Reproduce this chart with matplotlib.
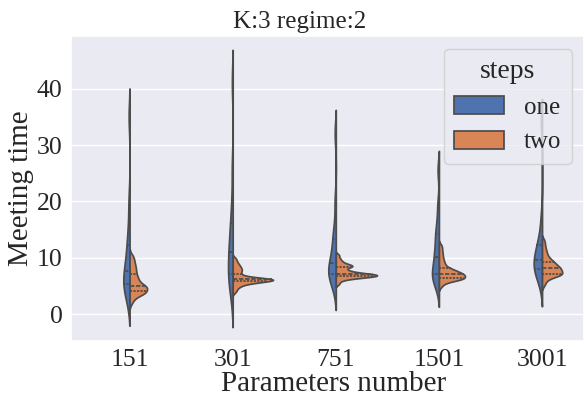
import matplotlib
matplotlib.use("Agg")
import matplotlib.pyplot as plt
import seaborn as sns
import pandas as pd

categories = ["151", "301", "751", "1501", "3001"]
steps = ["one", "two"]
y_ticks = [0, 10, 20, 30, 40]

one_151 = [3.0, 3.8, 4.6, 5.1, 5.9, 6.8, 7.3,
           7.9, 9.5, 11.5, 12.6, 15.5, 20.0, 35.0]
two_151 = [2.0, 2.6, 3.0, 3.3, 3.5, 3.6, 3.7, 3.8, 3.9, 4.0,
           4.1, 4.2, 4.35, 4.5, 4.6, 4.7, 4.8, 4.9, 5.0, 5.0,
           5.1, 5.3, 5.5, 5.7, 5.9, 6.1, 6.3, 6.5, 6.8, 7.0,
           7.3, 7.6, 7.9, 8.2, 8.5, 8.8, 9.2, 9.6, 10.0, 10.5]
one_301 = [3.6, 5.2, 6.4, 7.0, 7.8, 9.4, 10.7,
           11.5, 13.0, 15.0, 16.5, 20.0, 26.0, 41.0]
two_301 = [4.0, 4.5, 4.85, 5.1, 5.3, 5.45, 5.55, 5.65, 5.72, 5.78,
           5.85, 5.9, 5.95, 6.0, 6.05, 6.08, 6.12, 6.15, 6.18, 6.2,
           6.22, 6.25, 6.28, 6.32, 6.38, 6.45, 6.55, 6.7, 6.9, 7.1,
           7.35, 7.6, 7.8, 8.0, 8.2, 8.45, 8.7, 9.0, 9.4, 9.9]
one_751 = [5.0, 6.2, 6.8, 7.1, 7.5, 8.2, 8.8,
           9.4, 10.6, 12.6, 13.5, 15.5, 20.0, 32.0]
two_751 = [5.4, 5.9, 6.2, 6.35, 6.45, 6.55, 6.6, 6.65, 6.7, 6.7,
           6.75, 6.8, 6.85, 6.9, 6.95, 7.0, 7.0, 7.05, 7.1, 7.1,
           7.15, 7.2, 7.3, 7.4, 7.5, 7.6, 7.75, 7.9, 8.1, 8.4,
           8.45, 8.5, 8.6, 8.7, 8.85, 9.0, 9.25, 9.55, 9.95, 10.5]
one_1501 = [4.8, 6.1, 6.7, 7.0, 7.4, 8.6, 9.8,
            10.6, 11.8, 13.6, 14.4, 16.5, 19.5, 25.5]
two_1501 = [5.0, 5.5, 5.8, 6.0, 6.1, 6.2, 6.25, 6.3, 6.3, 6.35,
            6.4, 6.5, 6.6, 6.7, 6.8, 6.9, 6.95, 7.0, 7.05, 7.1,
            7.15, 7.25, 7.35, 7.45, 7.55, 7.65, 7.75, 7.85, 8.0, 8.1,
            8.3, 8.6, 8.9, 9.2, 9.6, 10.0, 10.5, 11.0, 11.6, 12.2]
one_3001 = [5.6, 7.0, 7.6, 8.0, 8.4, 9.0, 9.45,
            9.95, 10.8, 11.9, 12.3, 13.8, 17.0, 34.0]
two_3001 = [5.2, 5.8, 6.2, 6.5, 6.7, 6.8, 6.9, 7.0, 7.05, 7.1,
            7.2, 7.3, 7.4, 7.5, 7.6, 7.7, 7.8, 7.9, 8.0, 8.1,
            8.2, 8.3, 8.4, 8.5, 8.6, 8.75, 8.9, 9.05, 9.2, 9.3,
            9.5, 9.7, 9.9, 10.2, 10.5, 10.9, 11.3, 11.8, 12.4, 13.1]

one_groups = [one_151, one_301, one_751, one_1501, one_3001]
two_groups = [two_151, two_301, two_751, two_1501, two_3001]

rows = []
for cat, one, two in zip(categories, one_groups, two_groups):
    rows += [(cat, "one", v) for v in one]
    rows += [(cat, "two", v) for v in two]
df = pd.DataFrame(rows, columns=["Parameters number", "steps", "Meeting time"])

sns.set_theme(style="darkgrid")
plt.rcParams['font.family'] = ['Liberation Serif', 'DejaVu Serif']

fig, ax = plt.subplots(figsize=(5.84, 4), dpi=100)
sns.violinplot(data=df, x="Parameters number", y="Meeting time", hue="steps",
               split=True, inner="quart", order=categories, hue_order=steps,
               bw_adjust=0.5, cut=2, common_norm=True, saturation=0.95, ax=ax)
ax.set_yticks(y_ticks)
# the reference is cropped on the right, so the last category sits near the edge
ax.set_xlim(-0.568, 4.407)
ax.set_title("K:3 regime:2", fontsize=18, x=0.446)
ax.set_xlabel("Parameters number", fontsize=21, labelpad=0, x=0.511)
ax.set_ylabel("Meeting time", fontsize=21, labelpad=2)
ax.tick_params(labelsize=18.5, length=0, pad=6)
sns.move_legend(ax, "upper right", fontsize=18, title_fontsize=20)
fig.subplots_adjust(left=71/584, right=1.0, top=1-36/400, bottom=1-341/400)
fig.savefig("out.png")
